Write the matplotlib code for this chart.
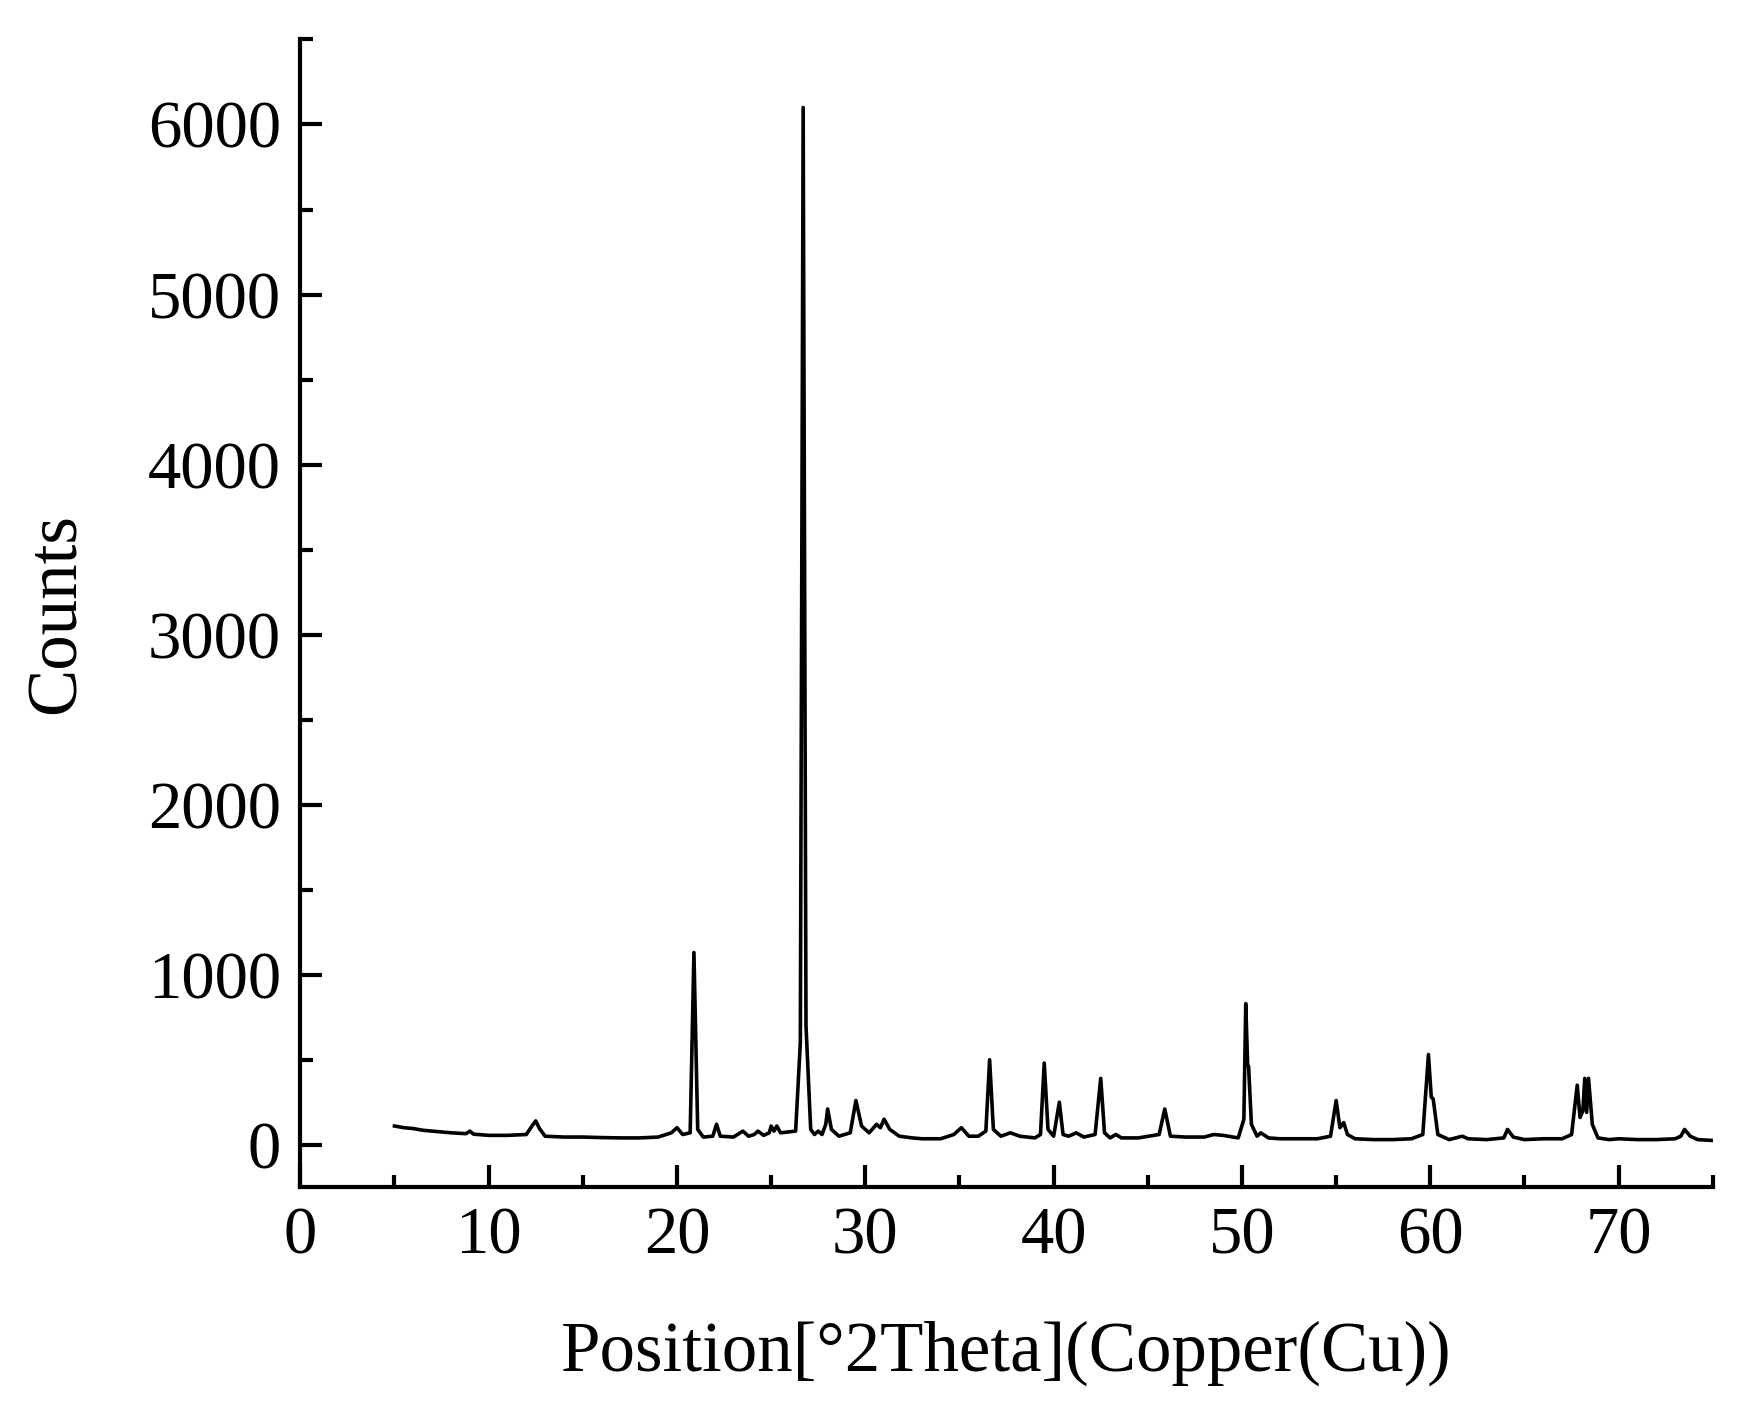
import matplotlib.pyplot as plt
from matplotlib.ticker import MultipleLocator

# XRD pattern: (2theta, counts)
two_theta = [
	5.0, 5.5, 6.0, 6.5, 7.0, 8.0, 8.8, 9.0, 9.2, 10.0, 11.0, 12.0, 12.3, 12.5, 12.7, 13.0,
	14.0, 15.0, 16.0, 17.0, 18.0, 19.0, 19.7, 20.0, 20.3, 20.7, 20.9, 21.1, 21.4,
	21.9, 22.1, 22.3, 23.0, 23.5, 23.8, 24.1, 24.3, 24.6, 24.9, 25.0, 25.15, 25.3, 25.5,
	26.3, 26.55, 26.7, 26.85, 27.1, 27.3, 27.5, 27.7, 27.9, 28.0, 28.2, 28.6,
	29.2, 29.5, 29.8, 30.2, 30.6, 30.8, 31.0, 31.3, 31.8, 32.5, 33.0, 34.0, 34.7,
	35.1, 35.5, 36.0, 36.4, 36.6, 36.8, 37.2, 37.7, 38.2, 39.0, 39.3, 39.5, 39.7,
	40.0, 40.3, 40.5, 40.8, 41.2, 41.6, 42.2, 42.5, 42.7, 43.0, 43.3, 43.6, 44.5,
	45.6, 45.9, 46.2, 47.0, 48.0, 48.5, 49.0, 49.8, 50.1, 50.2, 50.3, 50.35, 50.5,
	50.8, 51.0, 51.4, 52.0, 53.0, 54.0, 54.7, 55.0, 55.2, 55.4, 55.6, 56.0, 57.0,
	58.0, 59.0, 59.6, 59.9, 60.05, 60.15, 60.4, 61.0, 61.7, 62.0, 63.0, 63.9, 64.1,
	64.4, 65.0, 66.0, 67.0, 67.5, 67.8, 67.95, 68.1, 68.2, 68.3, 68.4, 68.6, 68.9,
	69.5, 70.0, 71.0, 72.0, 73.0, 73.3, 73.5, 73.8, 74.2, 75.0
]
counts = [
	110, 100, 95, 85, 80, 70, 65, 80, 62, 55, 55, 60, 110, 140, 95, 50,
	45, 45, 42, 40, 40, 45, 70, 100, 60, 70, 1130, 90, 45,
	50, 120, 50, 45, 80, 50, 60, 80, 55, 70, 110, 80, 110, 70,
	80, 600, 6100, 700, 90, 60, 80, 60, 120, 210, 90, 50,
	70, 260, 110, 70, 120, 100, 150, 90, 50, 40, 35, 35, 60,
	100, 50, 50, 80, 500, 90, 50, 70, 50, 40, 60, 480, 90,
	50, 250, 60, 50, 70, 45, 60, 390, 70, 40, 60, 40, 40,
	60, 210, 50, 45, 45, 60, 55, 40, 150, 830, 470, 460, 120,
	50, 70, 40, 35, 35, 35, 50, 260, 100, 130, 60, 35, 30,
	30, 35, 60, 530, 280, 270, 60, 30, 50, 35, 30, 40, 90,
	45, 30, 35, 35, 60, 350, 160, 200, 390, 190, 390, 120, 40,
	30, 35, 30, 30, 35, 50, 90, 50, 30, 25
]

fig = plt.figure(figsize=(17.46, 14.1), dpi=100)
ax = fig.add_axes([0.172, 0.158, 0.809, 0.814])

ax.plot(two_theta, counts, color="black", linewidth=2.6)

ax.set_xlim(0, 75)
ax.set_ylim(-250, 6500)
ax.xaxis.set_major_locator(MultipleLocator(10))
ax.xaxis.set_minor_locator(MultipleLocator(5))
ax.yaxis.set_major_locator(MultipleLocator(1000))
ax.yaxis.set_minor_locator(MultipleLocator(500))

for side in ["top", "right"]:
	ax.spines[side].set_visible(False)
for side in ["left", "bottom"]:
	ax.spines[side].set_linewidth(3)

ax.tick_params(which="major", direction="in", length=16, width=3, labelsize=48, pad=14)
ax.tick_params(which="minor", direction="in", length=9, width=3)

for label in ax.get_xticklabels() + ax.get_yticklabels():
	label.set_fontfamily("Liberation Serif")

ax.set_xlabel("Position[°2Theta](Copper(Cu))", fontsize=51, family="Liberation Serif", labelpad=38)
ax.set_ylabel("Counts", fontsize=51, family="Liberation Serif", labelpad=42)

fig.savefig("out.png", dpi=100)
